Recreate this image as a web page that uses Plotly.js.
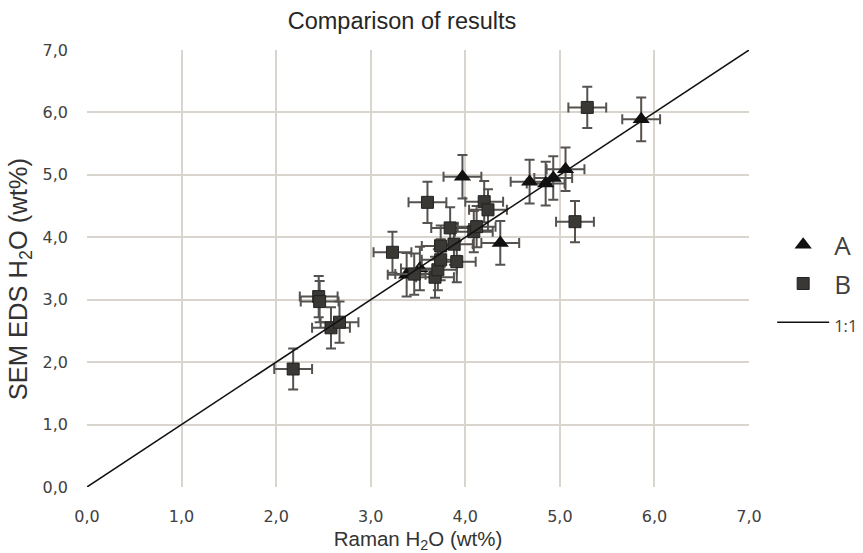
<!DOCTYPE html>
<html>
<head>
<meta charset="utf-8">
<script src="https://cdn.plot.ly/plotly-3.0.1.min.js"></script>
<style>html,body{margin:0;padding:0;background:#fff;}#chart{width:863px;height:553px;}</style>
</head>
<body>
<div id="chart"></div>
<script>
// Series A (triangles)
const aRaman = [3.38, 3.52, 3.97, 4.37, 4.68, 4.85, 4.93, 5.06, 5.86];
const aSem   = [3.40, 3.50, 4.97, 3.91, 4.89, 4.86, 4.95, 5.09, 5.89];
const aErrX  = [0.2, 0.2, 0.2, 0.2, 0.2, 0.2, 0.2, 0.2, 0.2];
const aErrY  = [0.35, 0.35, 0.35, 0.35, 0.35, 0.35, 0.35, 0.35, 0.35];
// Series B (squares)
const bRaman = [2.18, 2.45, 2.46, 2.58, 2.67, 3.23, 3.46, 3.60, 3.68, 3.71, 3.74, 3.74, 3.84, 3.88, 3.91, 4.09, 4.12, 4.20, 4.24, 5.16, 5.29];
const bSem   = [1.89, 3.05, 2.97, 2.55, 2.64, 3.76, 3.41, 4.56, 3.36, 3.48, 3.64, 3.86, 4.15, 3.89, 3.61, 4.09, 4.17, 4.57, 4.44, 4.25, 6.08];
const bErrX  = bRaman.map(() => 0.2);
const bErrY  = bRaman.map(() => 0.33);
// 1:1 reference line
const lineX = [0, 7];
const lineY = [0, 7];
const tickVals = [0, 1, 2, 3, 4, 5, 6, 7];

const SANS = '"Liberation Sans", Arial, sans-serif';
const TICKF = '"DejaVu Sans", Verdana, sans-serif';
const LEGF = '"Open Sans", "Liberation Sans", sans-serif';
const errStyle = {color: '#55524f', thickness: 2, width: 5};

const traces = [
  {
    x: aRaman, y: aSem, name: 'A', type: 'scatter', mode: 'markers', legendgroup: 'a',
    marker: {symbol: 'triangle-up', size: 15, color: '#111111', line: {width: 0}},
    error_x: Object.assign({type: 'data', array: aErrX, visible: true}, errStyle),
    error_y: Object.assign({type: 'data', array: aErrY, visible: true}, errStyle)
  },
  {
    x: bRaman, y: bSem, name: 'B', type: 'scatter', mode: 'markers', legendgroup: 'b',
    marker: {symbol: 'square', size: 12, color: '#3a3835', line: {width: 1, color: '#222'}},
    error_x: Object.assign({type: 'data', array: bErrX, visible: true}, errStyle),
    error_y: Object.assign({type: 'data', array: bErrY, visible: true}, errStyle)
  },
  {
    x: lineX, y: lineY, name: '<span style="font-size:16.5px">1:1</span>', type: 'scatter', mode: 'lines', legendgroup: 'c',
    line: {color: '#111111', width: 1.5}
  }
];

const axisCommon = {
  range: [0, 7], tickvals: tickVals, tickformat: '.1f',
  showgrid: true, gridcolor: '#d9d4ce', gridwidth: 2,
  zeroline: false, showline: false, ticks: '',
  tickfont: {family: TICKF, size: 16, color: '#404040'},
  fixedrange: true, automargin: false
};

const layout = {
  width: 863, height: 553,
  margin: {l: 87, r: 114, t: 50, b: 66, autoexpand: false},
  paper_bgcolor: '#fff', plot_bgcolor: '#fff',
  separators: ', ',
  font: {family: SANS, color: '#333'},
  title: {text: 'Comparison of results', x: 402 / 863, xref: 'container', xanchor: 'center', y: 1 - 21 / 553, yref: 'container', yanchor: 'middle', font: {family: SANS, size: 23.5, color: '#262626'}},
  xaxis: Object.assign({}, axisCommon, {
    title: {text: 'Raman H<sub>2</sub>O (wt%)', font: {family: SANS, size: 20.5, color: '#333'}, standoff: 24},
    ticklabelstandoff: 18
  }),
  yaxis: Object.assign({}, axisCommon, {
    title: {text: 'SEM EDS H<sub>2</sub>O (wt%)&nbsp;&nbsp;&nbsp;', font: {family: SANS, size: 25.5, color: '#333'}, standoff: 7},
    ticklabelstandoff: 18
  }),
  showlegend: true,
  legend: {
    x: 1.035, xanchor: 'left', y: 0.465, yanchor: 'middle',
    font: {family: LEGF, size: 26, color: '#404040'},
    itemwidth: 52, bgcolor: 'rgba(0,0,0,0)', tracegroupgap: 2
  }
};

Plotly.newPlot('chart', traces, layout, {displayModeBar: false, staticPlot: true});
</script>
</body>
</html>
